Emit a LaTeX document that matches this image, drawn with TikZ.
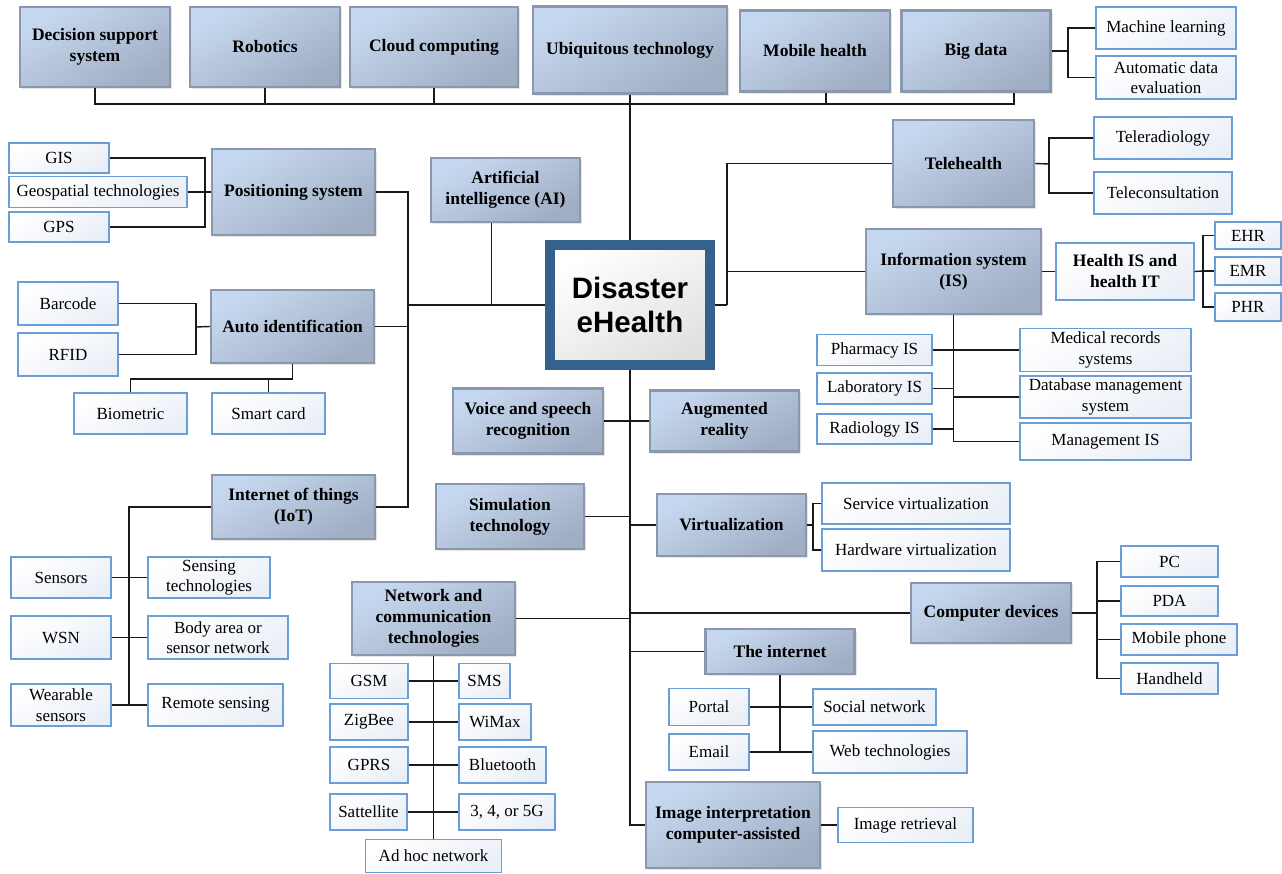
\documentclass[tikz,border=0pt]{standalone}
\usepackage{fontspec}
\setmainfont{Liberation Serif}
\newfontfamily\corefont{Liberation Sans}
\usetikzlibrary{shadows}
\definecolor{dtop}{HTML}{C6D8EF}
\definecolor{dbot}{HTML}{A0AEC4}
\definecolor{dline}{HTML}{8A97AD}
\definecolor{lbot}{HTML}{EAEFF7}
\definecolor{lline}{HTML}{6B9ED6}
\definecolor{coreblue}{HTML}{35628C}

\begin{document}
\begin{tikzpicture}[x=1pt,y=-1pt,
    boxsize/.style 2 args={minimum width=#1pt,minimum height=#2pt},
    dbox/.style={draw=dline,line width=2.5pt,top color=dtop,bottom color=dbot,shading angle=30,
      drop shadow={shadow xshift=2pt,shadow yshift=-2pt,opacity=.2},
      align=center,inner sep=2pt,font=\bfseries\fontsize{17.5}{21}\selectfont},
    lbox/.style={draw=lline,line width=1.2pt,top color=white,bottom color=lbot,shading angle=30,
      align=center,inner sep=2pt,font=\fontsize{17}{20.5}\selectfont},
    link/.style={line width=1.4pt,draw=black!90}]
  \useasboundingbox (0,0) rectangle (1282,873);

  \node[dbox,boxsize={150}{80}] (dss) at (95,47) {Decision support\\system};
  \node[dbox,boxsize={150}{80}] (robot) at (265,47) {Robotics};
  \node[dbox,boxsize={168}{80}] (cloud) at (434,47) {Cloud computing};
  \node[dbox,boxsize={194}{87}] (ubiq) at (630,50) {Ubiquitous technology};
  \node[dbox,boxsize={150}{81}] (mhealth) at (815,51) {Mobile health};
  \node[dbox,boxsize={149}{81}] (bigdata) at (976,51) {Big data};
  \node[lbox,boxsize={140}{42}] (ml) at (1166,28) {Machine learning};
  \node[lbox,boxsize={140}{43}] (ade) at (1166,77.5) {Automatic data\\evaluation};

  \node[draw=coreblue,line width=10pt,top color=white,bottom color=black!12,shading angle=30,
    boxsize={160}{120},align=center,font=\corefont\bfseries\fontsize{29.5}{34}\selectfont]
    (core) at (630,305) {Disaster\\eHealth};

  \node[lbox,boxsize={100}{30}] (gis) at (59,158) {GIS};
  \node[lbox,boxsize={178}{31}] (geo) at (98,192) {Geospatial technologies};
  \node[lbox,boxsize={100}{30}] (gps) at (59,227) {GPS};
  \node[dbox,boxsize={163}{86}] (pos) at (293.5,192) {Positioning system};
  \node[dbox,boxsize={149}{64}] (ai) at (505.5,190) {Artificial\\intelligence (AI)};

  \node[lbox,boxsize={100}{43}] (barcode) at (68,303.5) {Barcode};
  \node[lbox,boxsize={100}{43}] (rfid) at (68,354.5) {RFID};
  \node[dbox,boxsize={163}{73}] (autoid) at (292.5,326.5) {Auto identification};
  \node[lbox,boxsize={113}{41}] (bio) at (130.5,413.5) {Biometric};
  \node[lbox,boxsize={113}{41}] (card) at (268.5,413.5) {Smart card};

  \node[dbox,boxsize={163}{64}] (iot) at (293.5,507) {Internet of things\\(IoT)};
  \node[lbox,boxsize={100}{41}] (sensors) at (61,577.5) {Sensors};
  \node[lbox,boxsize={122}{41}] (sensing) at (209,577.5) {Sensing\\technologies};
  \node[lbox,boxsize={100}{43}] (wsn) at (61,637.5) {WSN};
  \node[lbox,boxsize={140}{43}] (body) at (218,637.5) {Body area or\\sensor network};
  \node[lbox,boxsize={100}{42}] (wear) at (61,705) {Wearable\\sensors};
  \node[lbox,boxsize={135}{42}] (remote) at (215.5,705) {Remote sensing};

  \node[dbox,boxsize={163}{73}] (net) at (433.5,618.5) {Network and\\communication\\technologies};
  \node[lbox,boxsize={78}{35}] (gsm) at (369,681) {GSM};
  \node[lbox,boxsize={51}{35}] (sms) at (484.5,681) {SMS};
  \node[lbox,boxsize={78}{36}] (zigbee) at (369,722) {ZigBee};
  \node[lbox,boxsize={72}{36}] (wimax) at (495,722) {WiMax};
  \node[lbox,boxsize={78}{36}] (gprs) at (369,765) {GPRS};
  \node[lbox,boxsize={87}{36}] (bt) at (502.5,765) {Bluetooth};
  \node[lbox,boxsize={77}{36}] (sat) at (368.5,812) {Sattellite};
  \node[lbox,boxsize={96}{36}] (fiveg) at (507,812) {3, 4, or 5G};
  \node[lbox,boxsize={136}{33}] (adhoc) at (433.5,856) {Ad hoc network};

  \node[dbox,boxsize={150}{65}] (voice) at (528,421) {Voice and speech\\recognition};
  \node[dbox,boxsize={149}{61}] (ar) at (724.5,421) {Augmented\\reality};
  \node[dbox,boxsize={148}{65}] (sim) at (510,516.5) {Simulation\\technology};
  \node[dbox,boxsize={149}{62}] (virt) at (731.5,525) {Virtualization};
  \node[lbox,boxsize={188}{41}] (sv) at (916,503.5) {Service virtualization};
  \node[lbox,boxsize={188}{42}] (hv) at (916,550) {Hardware virtualization};

  \node[dbox,boxsize={160}{60}] (dev) at (991,613) {Computer devices};
  \node[lbox,boxsize={97}{31}] (pc) at (1169.5,561.5) {PC};
  \node[lbox,boxsize={97}{30}] (pda) at (1169.5,601) {PDA};
  \node[lbox,boxsize={116}{31}] (mphone) at (1179,639.5) {Mobile phone};
  \node[lbox,boxsize={97}{31}] (hand) at (1169.5,678.5) {Handheld};

  \node[dbox,boxsize={149}{45}] (inet) at (780,651.5) {The internet};
  \node[lbox,boxsize={80}{37}] (portal) at (709,707) {Portal};
  \node[lbox,boxsize={80}{36}] (email) at (709,752) {Email};
  \node[lbox,boxsize={123}{36}] (social) at (874.5,707) {Social network};
  \node[lbox,boxsize={154}{42}] (web) at (890,752) {Web technologies};

  \node[dbox,boxsize={174}{86}] (img) at (733,825) {Image interpretation\\computer-assisted};
  \node[lbox,boxsize={135}{35}] (ret) at (905.5,825) {Image retrieval};

  \node[dbox,boxsize={141}{87}] (tele) at (963.5,163.5) {Telehealth};
  \node[lbox,boxsize={138}{42}] (trad) at (1163,138) {Teleradiology};
  \node[lbox,boxsize={138}{42}] (tcon) at (1163,193) {Teleconsultation};

  \node[dbox,boxsize={175}{85}] (is) at (953.5,271.5) {Information system\\(IS)};
  \node[lbox,boxsize={138}{57},font=\bfseries\fontsize{17.5}{21}\selectfont] (his) at (1125,271.5) {Health IS and\\health IT};
  \node[lbox,boxsize={66}{27}] (ehr) at (1248,235.5) {EHR};
  \node[lbox,boxsize={66}{28}] (emr) at (1248,271) {EMR};
  \node[lbox,boxsize={66}{28}] (phr) at (1248,307) {PHR};
  \node[lbox,boxsize={115}{31}] (pharm) at (874.5,350) {Pharmacy IS};
  \node[lbox,boxsize={115}{31}] (lab) at (874.5,388.5) {Laboratory IS};
  \node[lbox,boxsize={115}{30}] (rad) at (874.5,429) {Radiology IS};
  \node[lbox,boxsize={171}{43}] (med) at (1105.5,350) {Medical records\\systems};
  \node[lbox,boxsize={171}{42}] (db) at (1105.5,397) {Database management\\system};
  \node[lbox,boxsize={171}{37}] (mis) at (1105.5,441.5) {Management IS};

  \coordinate (busy) at (0,104);
  \draw[link] (dss.south) |- ([xshift=38]bigdata.south |- busy) -- ([xshift=38]bigdata.south);
  \foreach \n in {robot,cloud} \draw[link] (\n.south) -- (\n.south |- busy);
  \draw[link] ([xshift=11]mhealth.south) -- ([xshift=11]mhealth.south |- busy);
  \draw[link] (ubiq.south) -- (core.north);
  \coordinate (bj) at (1068,51);
  \draw[link] (bigdata.east) -- (bj);
  \draw[link] (ml.west) -| (bj) |- (ade.west);

  \coordinate (lj) at (408,305);
  \draw[link] (core.west) -- (lj);
  \draw[link] ([xshift=-14]ai.south) -- ([xshift=-14]ai.south |- core.west);
  \draw[link] (pos.east) -| (lj) |- (iot.east);
  \draw[link] (autoid.east) -- (autoid.east -| lj);
  \coordinate (pj) at (205,192);
  \draw[link] (gis.east) -| (pj) |- (gps.east);
  \draw[link] (geo.east) -- (pos.west);
  \coordinate (aj) at (196,327);
  \draw[link] (barcode.east) -| (aj) |- (rfid.east);
  \draw[link] (aj) -- (autoid.west);
  \coordinate (ab) at (292.5,379);
  \draw[link] (autoid.south) -- (ab) -| (bio.north);
  \draw[link] (card.north) -- (card.north |- ab);
  \coordinate (it) at (129,507);
  \draw[link] (iot.west) -- (it) -- (it |- wear.east);
  \foreach \a/\b in {sensors/sensing,wsn/body,wear/remote} \draw[link] (\a.east) -- (\b.west);

  \draw[link] (core.south) -- (core.south |- img.west) -- (img.west);
  \draw[link] (voice.east) -- (ar.west);
  \draw[link] (sim.east) -- (sim.east -| core.south);
  \draw[link] (virt.west) -- (virt.west -| core.south);
  \draw[link] (net.east) -- (net.east -| core.south);
  \draw[link] (dev.west) -- (dev.west -| core.south);
  \draw[link] (inet.west) -- (inet.west -| core.south);
  \draw[link] (img.east) -- (ret.west);

  \draw[link] (net.south) -- (net.south |- adhoc.north);
  \foreach \a/\b in {gsm/sms,zigbee/wimax,gprs/bt,sat/fiveg} \draw[link] (\a.east) -- (\b.west);

  \coordinate (vj) at (813,525);
  \draw[link] (virt.east) -- (vj);
  \draw[link] (sv.west) -| (vj) |- (hv.west);
  \coordinate (dj) at (1097,613);
  \draw[link] (dev.east) -- (dj);
  \draw[link] (pc.west) -| (dj) |- (hand.west);
  \foreach \n in {pda,mphone} \draw[link] (\n.west) -- (\n.west -| dj);
  \draw[link] (inet.south) -- (inet.south |- email.east);
  \foreach \a/\b in {portal/social,email/web} \draw[link] (\a.east) -- (\b.west);

  \coordinate (rj) at (727,305);
  \draw[link] (core.east) -- (rj);
  \draw[link] (tele.west) -| (rj);
  \draw[link] (is.west) -- (is.west -| rj);
  \coordinate (tj) at (1049,164);
  \draw[link] (tele.east) -- (tj);
  \draw[link] (trad.west) -| (tj) |- (tcon.west);
  \draw[link] (is.east) -- (his.west);
  \coordinate (hj) at (1203,271);
  \draw[link] (his.east) -- (hj);
  \draw[link] (ehr.west) -| (hj) |- (phr.west);
  \draw[link] (emr.west) -- (emr.west -| hj);
  \draw[link] (is.south) -- (is.south |- mis.west);
  \draw[link] (pharm.east) -- (med.west);
  \foreach \n in {lab,rad} \draw[link] (\n.east) -- (\n.east -| is.south);
  \foreach \n in {db,mis} \draw[link] (\n.west) -- (\n.west -| is.south);
\end{tikzpicture}
\end{document}
